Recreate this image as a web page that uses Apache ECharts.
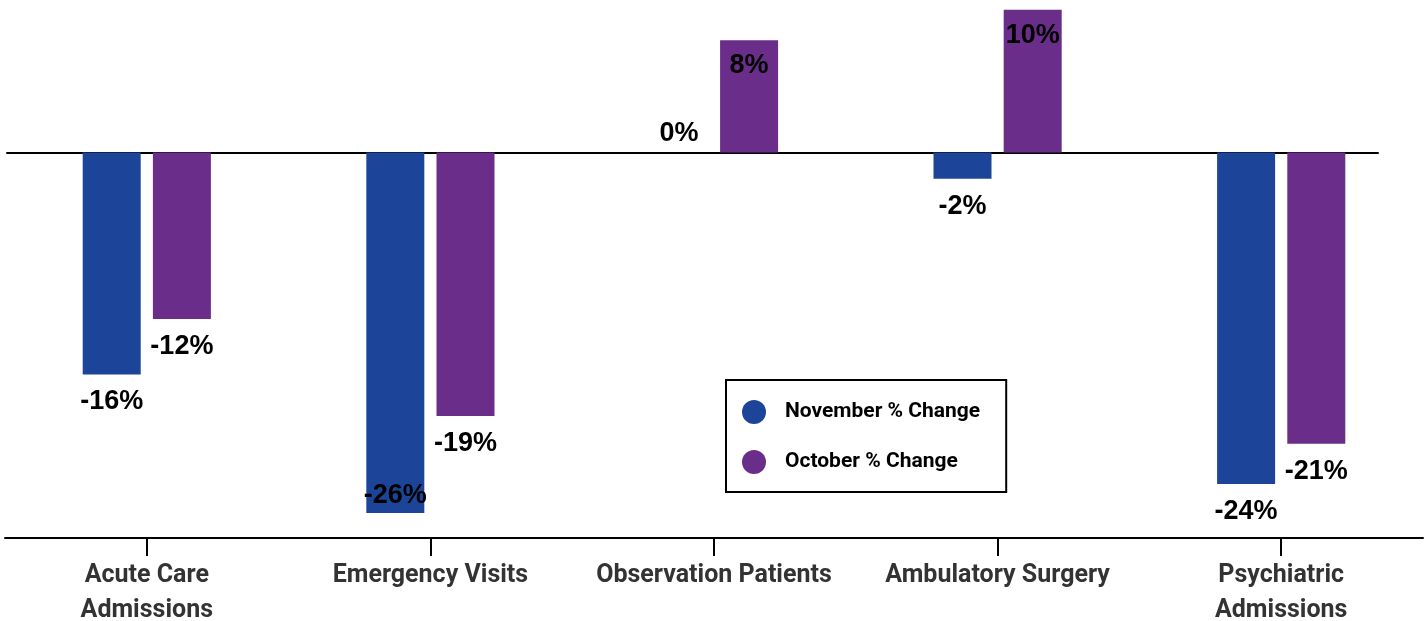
<!DOCTYPE html>
<html>
<head>
<meta charset="utf-8">
<script src="https://cdn.jsdelivr.net/npm/echarts@6/dist/echarts.min.js"></script>
<style>
  html, body { margin: 0; padding: 0; background: #fff; }
  #chart { width: 1427px; height: 621px; }
</style>
</head>
<body>
<div id="chart"></div>
<script>
var categories = ["Acute Care\nAdmissions", "Emergency Visits", "Observation Patients", "Ambulatory Surgery", "Psychiatric\nAdmissions"];
var novemberChange = [-16.0, -26.0, 0, -1.9, -23.9];
var octoberChange = [-12.0, -19.0, 8.1, 10.3, -21.0];
var seriesNames = ["November % Change", "October % Change"];

var yMin = -27.8, yMax = 11;

// label placement: below for negatives, inside top for positives
function novLabel(v) {
  if (v === 0) return { position: "top", distance: 5 };
  if (v <= yMin + 3) return { position: "insideBottom", distance: 4 };
  return { position: "bottom", distance: 14 };
}
function octLabel(v) {
  if (v > 0) return { position: "insideTop", distance: 12 };
  return { position: "bottom", distance: 14 };
}

var novData = novemberChange.map(function(v) { return { value: v, label: novLabel(v) }; });
var octData = octoberChange.map(function(v) { return { value: v, label: octLabel(v) }; });

var labelStyle = {
  show: true,
  color: "#000",
  fontFamily: "Liberation Sans",
  fontWeight: "bold",
  fontSize: 27,
  formatter: function(p) { return Math.round(p.value) + "%"; }
};

var option = {
  backgroundColor: "#fff",
  animation: false,
  legend: {
    orient: "vertical",
    left: 726,
    top: 380,
    data: seriesNames,
    icon: "circle",
    itemWidth: 24,
    itemHeight: 24,
    itemGap: 26,
    padding: [20, 26, 18, 16],
    borderColor: "#000",
    borderWidth: 2,
    textStyle: { fontFamily: "Roboto", fontWeight: "bold", fontSize: 21, color: "#000", padding: [0, 0, 0, 14] }
  },
  grid: [
    { left: 5, right: 4, top: 0, bottom: 83, outerBoundsMode: "none", containLabel: false },
    { left: 7, right: 49, top: 0, bottom: 83, outerBoundsMode: "none", containLabel: false }
  ],
  xAxis: [
    {
      type: "category",
      gridIndex: 0,
      data: categories,
      axisLine: { show: true, onZero: false, lineStyle: { color: "#000", width: 2 } },
      axisTick: { show: true, alignWithLabel: true, length: 18, lineStyle: { color: "#000", width: 2 } },
      axisLabel: {
        interval: 0,
        margin: 20,
        fontFamily: "Roboto",
        fontWeight: "bold",
        fontSize: 25,
        lineHeight: 35,
        color: "#333"
      }
    },
    {
      type: "category",
      gridIndex: 1,
      data: categories,
      axisLine: { onZero: true, lineStyle: { color: "#000", width: 2 } },
      axisTick: { show: false },
      axisLabel: { show: false }
    }
  ],
  yAxis: [
    { type: "value", gridIndex: 0, min: yMin, max: yMax, show: false },
    { type: "value", gridIndex: 1, min: yMin, max: yMax, show: false }
  ],
  series: [
    {
      name: seriesNames[0],
      type: "bar",
      xAxisIndex: 0,
      yAxisIndex: 0,
      barWidth: 58,
      barGap: "21%",
      itemStyle: { color: "#1c4599" },
      label: labelStyle,
      data: novData
    },
    {
      name: seriesNames[1],
      type: "bar",
      xAxisIndex: 0,
      yAxisIndex: 0,
      barWidth: 58,
      barGap: "21%",
      itemStyle: { color: "#6b2d8a" },
      label: labelStyle,
      data: octData
    }
  ]
};

var chart = echarts.init(document.getElementById("chart"));
chart.setOption(option);
</script>
</body>
</html>
